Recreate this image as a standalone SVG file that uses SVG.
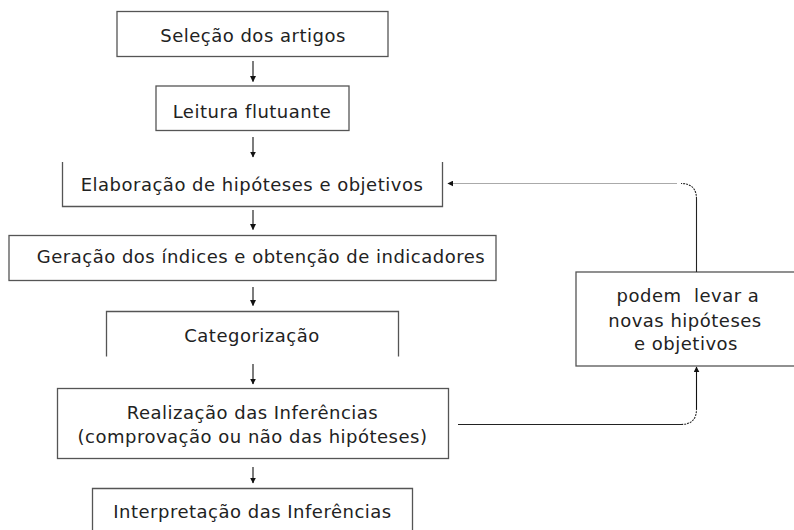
<svg xmlns="http://www.w3.org/2000/svg" width="794" height="530" viewBox="0 0 794 530">
<style>
.box{fill:none;stroke:#555;stroke-width:1.3}
.t{font-family:"DejaVu Sans","Verdana",sans-serif;font-size:18px;letter-spacing:0.5px;fill:#222;text-anchor:middle}
.ar{fill:none;stroke:#111;stroke-width:1.1;marker-end:url(#ah)}
.fb{fill:none;stroke:#222;stroke-width:1.1}
</style>
<defs>
<marker id="ah" viewBox="0 0 10 10" refX="9" refY="5" markerWidth="6" markerHeight="6" markerUnits="userSpaceOnUse" orient="auto">
<path d="M0,0 L10,5 L0,10 z" fill="#111"/>
</marker>
</defs>
<rect width="794" height="530" fill="#fff"/>
<g id="n1"><rect class="box" x="117" y="11.5" width="271" height="45"/><text class="t" x="253" y="42">Seleção dos artigos</text></g>
<g id="n2"><rect class="box" x="156" y="86" width="193" height="44.5"/><text class="t" x="252" y="117.5">Leitura flutuante</text></g>
<g id="n3"><path class="box" d="M62.5,162 V206.5 H442.5 V162"/><text class="t" x="252" y="191">Elaboração de hipóteses e objetivos</text></g>
<g id="n4"><rect class="box" x="9" y="235.5" width="487" height="45"/><text class="t" x="261" y="263">Geração dos índices e obtenção de indicadores</text></g>
<g id="n5"><path class="box" d="M106.5,356.5 V311.5 H398.5 V356.5"/><text class="t" x="252" y="342">Categorização</text></g>
<g id="n6"><rect class="box" x="57.5" y="388.5" width="391" height="70"/><text class="t" x="252.5" y="419">Realização das Inferências</text><text class="t" x="252.5" y="443">(comprovação ou não das hipóteses)</text></g>
<g id="n7"><path class="box" d="M92.5,531 V488.5 H412.5 V531"/><text class="t" x="252.5" y="518">Interpretação das Inferências</text></g>
<g id="n8"><rect class="box" x="576" y="272" width="230" height="94"/><text class="t" x="688" y="302" xml:space="preserve">podem  levar a</text><text class="t" x="685" y="327">novas hipóteses</text><text class="t" x="686" y="350">e objetivos</text></g>
<g id="connectors">
<path class="ar" d="M253,61 V81.5"/>
<path class="ar" d="M253,137 V157"/>
<path class="ar" d="M253,210 V229.5"/>
<path class="ar" d="M253,287 V305.5"/>
<path class="ar" d="M253,364 V384"/>
<path class="ar" d="M253,467 V483"/>
<path class="fb" d="M458,424.5 H681"/>
<path class="fb" d="M681,424.5 Q696.5,424.5 696.5,409" stroke-dasharray="2 1"/>
<path class="ar" d="M696.5,409 V367"/>
<path class="fb" d="M696.5,272 V199"/>
<path class="fb" d="M696.5,199 Q696.5,183.5 681,183.5" stroke-dasharray="2 1"/>
<path class="ar" d="M677,183.5 H448" style="stroke:#aaa"/>
</g>
</svg>
